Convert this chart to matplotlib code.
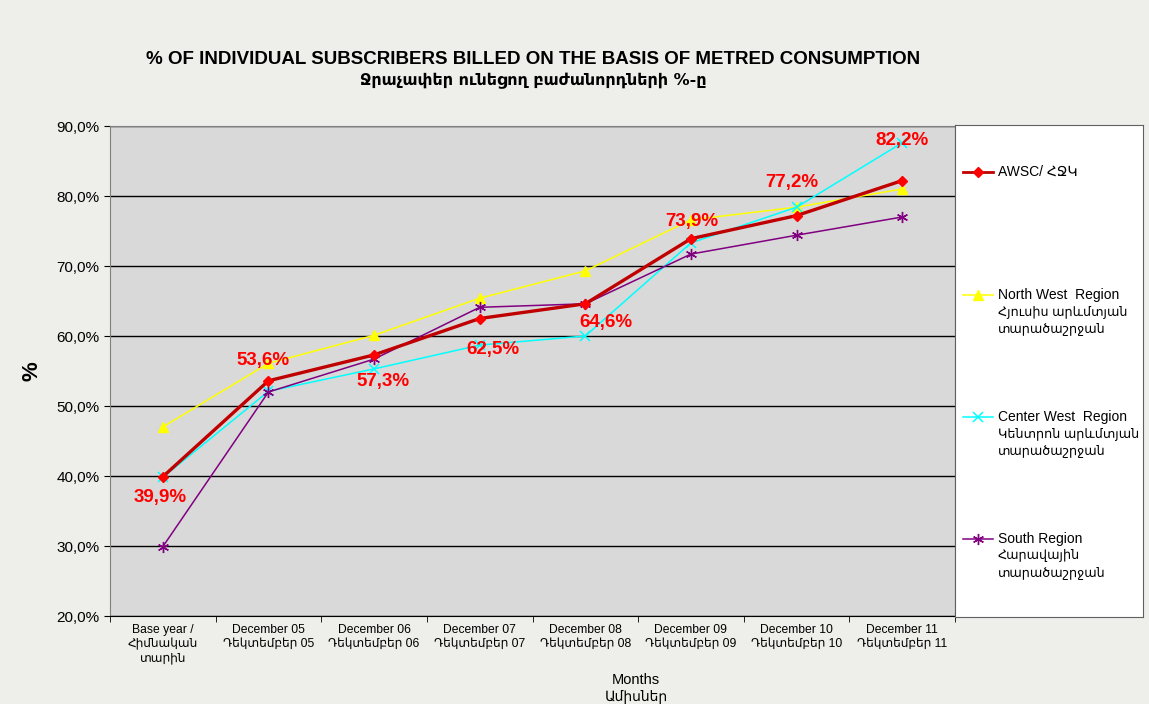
import matplotlib
matplotlib.use('Agg')
import matplotlib.pyplot as plt
import matplotlib.ticker as mticker
from matplotlib.lines import Line2D
import numpy as np

plt.rcParams['font.family'] = ['Liberation Sans', 'DejaVu Sans']

# Data
months = ['Base year /\nՀիմնական\nտարին',
          'December 05\nԴեկտեմբեր 05', 'December 06\nԴեկտեմբեր 06',
          'December 07\nԴեկտեմբեր 07', 'December 08\nԴեկտեմբեր 08',
          'December 09\nԴեկտեմբեր 09', 'December 10\nԴեկտեմբեր 10',
          'December 11\nԴեկտեմբեր 11']
awsc = [39.9, 53.6, 57.3, 62.5, 64.6, 73.9, 77.2, 82.2]
north_west = [47.0, 56.1, 60.1, 65.4, 69.3, 76.6, 78.4, 81.0]
center_west = [39.8, 52.1, 55.3, 58.7, 60.0, 73.3, 78.4, 87.6]
south = [29.9, 52.0, 56.7, 64.1, 64.6, 71.7, 74.4, 77.0]

series_labels = ['AWSC/ ՀՋԿ',
                 'North West  Region\nՀյուսիս արևմտյան\nտարածաշրջան',
                 'Center West  Region\nԿենտրոն արևմտյան\nտարածաշրջան',
                 'South Region\nՀարավային\nտարածաշրջան']

# label offsets (pixels) for AWSC value labels
label_offsets = [(-3, -21), (-5, 20), (9, -27), (13, -31),
                 (21, -19), (1, 17), (-5, 33), (0, 40)]

W, H = 1149, 704
fig = plt.figure(figsize=(W / 100, H / 100), dpi=100)
fig.patch.set_facecolor('#eeeeea')

ax = fig.add_axes([110 / W, 1 - 616 / H, 845 / W, 490 / H])
ax.set_facecolor('#d9d9d9')

x = np.arange(len(months))
styles = [
    dict(color='#c00000', lw=2.4, marker='D', ms=5, mfc='#ff0000', mec='#ff0000', zorder=5),
    dict(color='#ffff00', lw=1.1, marker='^', ms=7, mfc='#ffff00', mec='#ffff00', zorder=3),
    dict(color='#00ffff', lw=1.1, marker='x', ms=7, mew=1.1, zorder=3),
    dict(color='#800080', lw=1.1, marker=(6, 2, 0), ms=8, mew=1.0, zorder=4),
]
all_series = [awsc, north_west, center_west, south]
for vals, st in zip(all_series, styles):
    ax.plot(x, vals, **st)

for i, (val, off) in enumerate(zip(awsc, label_offsets)):
    ax.annotate(f'{val:.1f}%'.replace('.', ','), (x[i], val), xytext=off,
                textcoords='offset pixels', ha='center', va='center',
                color='#ff0000', fontsize=13.5, fontweight='bold', zorder=6)

ax.set_xlim(-0.5, len(months) - 0.5)
ax.set_ylim(20, 90)
ax.set_yticks(np.arange(20, 91, 10))
ax.yaxis.set_major_formatter(mticker.FuncFormatter(lambda v, p: f'{v:.1f}%'.replace('.', ',')))
ax.yaxis.grid(True, color='black', lw=1)
ax.set_axisbelow(True)
ax.set_xticks(x)
ax.set_xticklabels(months, fontsize=8.7)
ax.set_xticks(np.arange(-0.5, len(months), 1), minor=True)
ax.tick_params(axis='x', which='major', length=0, pad=6)
ax.tick_params(axis='x', which='minor', length=4, direction='out')
ax.tick_params(axis='y', labelsize=11, length=4)
for s in ['top', 'right']:
    ax.spines[s].set_color('#808080')
ax.spines['left'].set_color('#808080')
ax.spines['bottom'].set_color('black')

ax.set_ylabel('%', fontsize=16, fontweight='bold', labelpad=10)

# title
fig.text(533 / W, 1 - 60 / H, '% OF INDIVIDUAL SUBSCRIBERS BILLED ON THE BASIS OF METRED CONSUMPTION',
         ha='center', va='center', fontsize=13.5, fontweight='bold')
fig.text(533 / W, 1 - 81 / H, 'Ջրաչափեր ունեցող բաժանորդների %-ը',
         ha='center', va='center', fontsize=11.5, fontweight='bold', family=['DejaVu Sans'])

fig.text(636 / W, 1 - 680 / H, 'Months', ha='center', va='center', fontsize=10.5)
fig.text(636 / W, 1 - 697 / H, 'Ամիսներ', ha='center', va='center', fontsize=10)

# legend box
lax = fig.add_axes([955 / W, 1 - 617 / H, 188 / W, 492 / H])
lax.set_xlim(0, 188)
lax.set_ylim(492, 0)
lax.set_xticks([])
lax.set_yticks([])
lax.set_facecolor('white')
for s in lax.spines.values():
    s.set_color('#606060')
entry_y = [47, 170, 292, 414]
for lab, st, ey in zip(series_labels, styles, entry_y):
    kw = {k: v for k, v in st.items() if k != 'zorder'}
    kw['lw'] = min(kw['lw'], 2.0)
    lax.add_line(Line2D([8, 38], [ey, ey], **{k: v for k, v in kw.items() if k != 'marker'}, marker=None))
    lax.add_line(Line2D([23], [ey], **kw))
    for j, line in enumerate(lab.split('\n')):
        fs = 10 if j == 0 else 9.2
        lax.text(43, ey + j * 17, line, ha='left', va='center', fontsize=fs)

fig.savefig('out.png', dpi=100, facecolor=fig.get_facecolor())
